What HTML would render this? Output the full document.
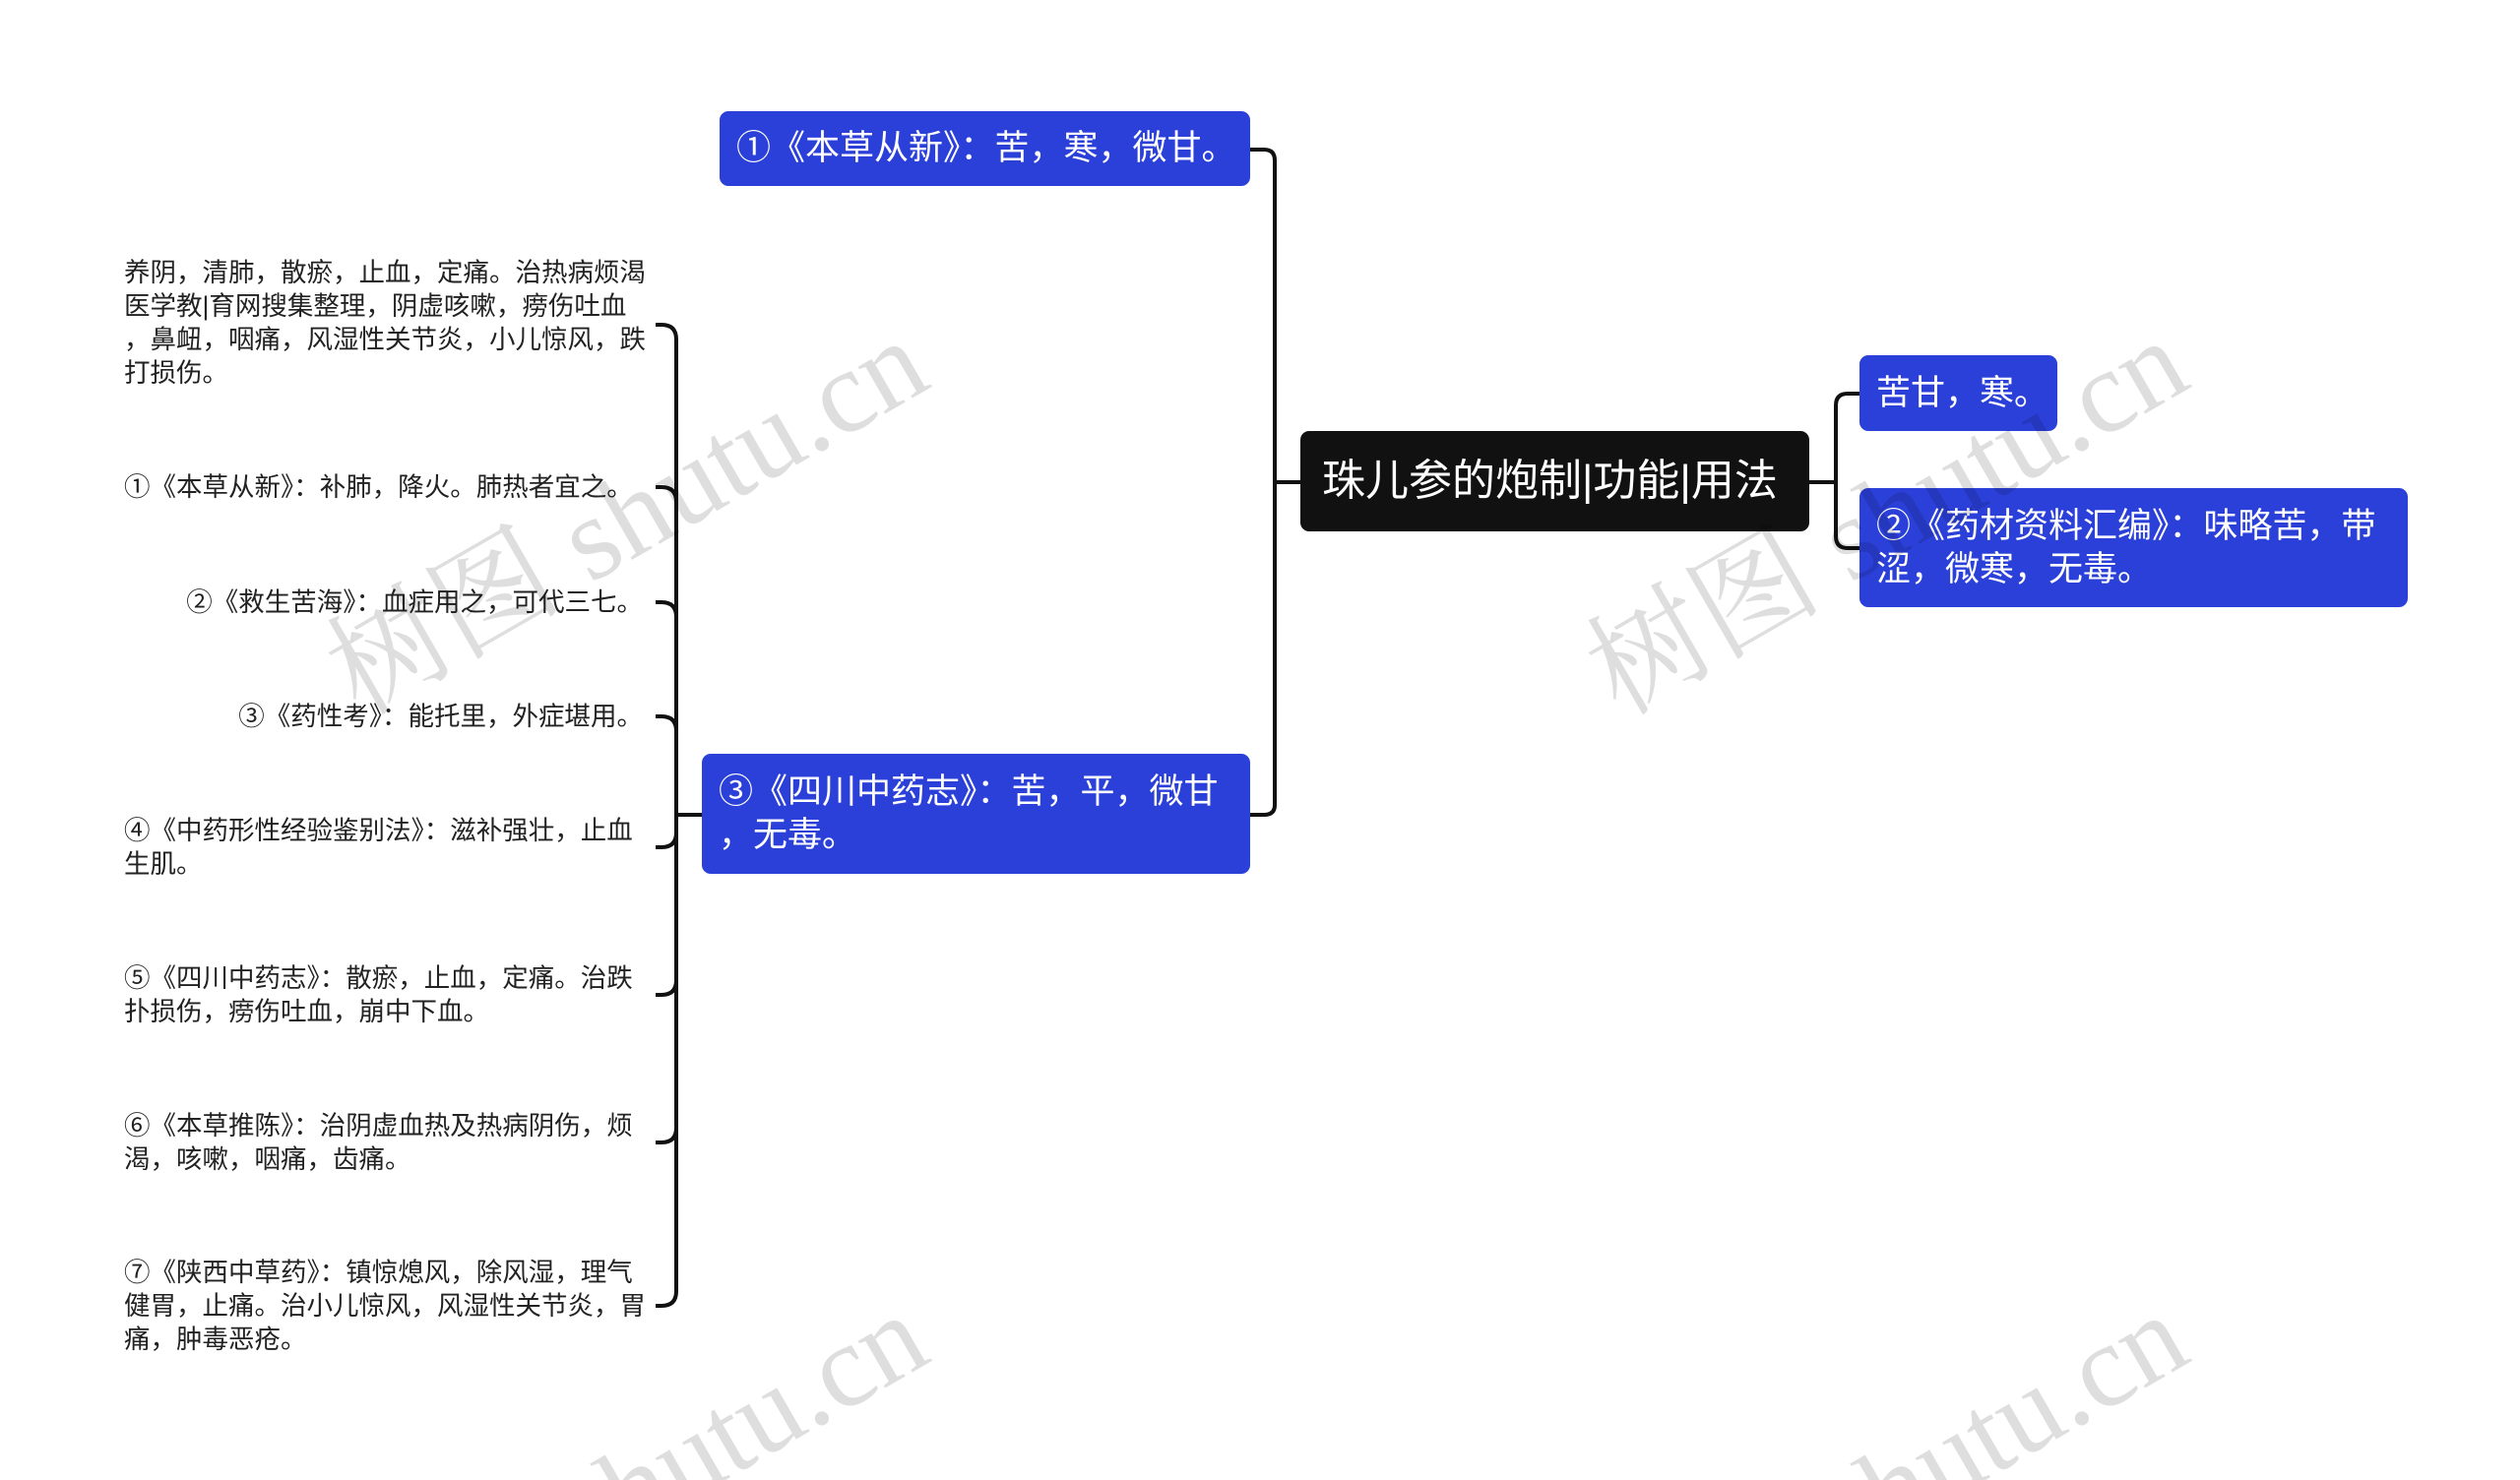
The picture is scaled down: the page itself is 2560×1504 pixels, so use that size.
<!DOCTYPE html>
<html><head><meta charset="utf-8"><style>
html,body{margin:0;width:2560px;height:1504px;overflow:hidden;}
body{background:#fff;position:relative;font-family:"Liberation Sans","Noto Sans CJK SC",sans-serif;}
#w{position:absolute;left:0;top:0;width:2560px;height:1504px;overflow:hidden;}
.n{position:absolute;background:#2b40d9;color:#fff;border-radius:9px;font-size:35px;line-height:44px;box-sizing:border-box;padding:0 17px;display:flex;align-items:center;white-space:nowrap;}
.leaf{position:absolute;left:126px;width:527px;font-size:26.5px;line-height:34px;color:#222;transform:translateY(-50%);white-space:nowrap;}
.wm{position:absolute;font-family:"Liberation Serif","Noto Serif CJK SC",serif;font-size:120px;color:rgba(0,0,0,0.13);transform:rotate(-30deg);white-space:nowrap;}
</style></head><body><div id="w">
<svg width="2560" height="1504" style="position:absolute;left:0;top:0" fill="none" stroke="#111" stroke-width="4">
<path d="M1295 163 V818 M1295 163 Q1295 152 1284 152 H1270 M1295 818 Q1295 828 1284 828 H1270 M1295 490 H1321"/>
<path d="M1838 490 H1865 M1865 412 V545 M1865 412 Q1865 400 1877 400 H1889 M1865 545 Q1865 557 1877 557 H1889"/>
<path d="M713 828 H687"/>
<path d="M687 345 V1312"/>
<path d="M666 330 H672 Q687 330 687 345"/>
<path d="M666 495 H672 Q687 495 687 510"/>
<path d="M666 612 H672 Q687 612 687 627"/>
<path d="M666 728 H672 Q687 728 687 743"/>
<path d="M666 861 H672 Q687 861 687 846"/>
<path d="M666 1011 H672 Q687 1011 687 996"/>
<path d="M666 1161 H672 Q687 1161 687 1146"/>
<path d="M666 1327 H672 Q687 1327 687 1312"/>
</svg>
<div class="n" style="left:1321px;top:438px;width:517px;height:102px;background:#111;font-size:44px;padding:0 22px;">珠儿参的炮制|功能|用法</div>
<div class="n" style="left:1889px;top:361px;width:201px;height:77px;">苦甘，寒。</div>
<div class="n" style="left:1889px;top:496px;width:557px;height:121px;">②《药材资料汇编》：味略苦，带<br>涩，微寒，无毒。</div>
<div class="n" style="left:731px;top:113px;width:539px;height:76px;">①《本草从新》：苦，寒，微甘。</div>
<div class="n" style="left:713px;top:766px;width:557px;height:122px;">③《四川中药志》：苦，平，微甘<br>，无毒。</div>
<div class="leaf" style="top:328px">养阴，清肺，散瘀，止血，定痛。治热病烦渴<br>医学教|育网搜集整理，阴虚咳嗽，痨伤吐血<br>，鼻衄，咽痛，风湿性关节炎，小儿惊风，跌<br>打损伤。</div>
<div class="leaf" style="top:495px">①《本草从新》：补肺，降火。肺热者宜之。</div>
<div class="leaf" style="top:612px;text-align:right">②《救生苦海》：血症用之，可代三七。</div>
<div class="leaf" style="top:728px;text-align:right">③《药性考》：能托里，外症堪用。</div>
<div class="leaf" style="top:861px">④《中药形性经验鉴别法》：滋补强壮，止血<br>生肌。</div>
<div class="leaf" style="top:1011px">⑤《四川中药志》：散瘀，止血，定痛。治跌<br>扑损伤，痨伤吐血，崩中下血。</div>
<div class="leaf" style="top:1161px">⑥《本草推陈》：治阴虚血热及热病阴伤，烦<br>渴，咳嗽，咽痛，齿痛。</div>
<div class="leaf" style="top:1327px">⑦《陕西中草药》：镇惊熄风，除风湿，理气<br>健胃，止痛。治小儿惊风，风湿性关节炎，胃<br>痛，肿毒恶疮。</div>
<div class="wm" style="left:295px;top:430px">树图 shutu.cn</div>
<div class="wm" style="left:1575px;top:430px">树图 shutu.cn</div>
<div class="wm" style="left:295px;top:1420px">树图 shutu.cn</div>
<div class="wm" style="left:1575px;top:1420px">树图 shutu.cn</div>
</div></body></html>
